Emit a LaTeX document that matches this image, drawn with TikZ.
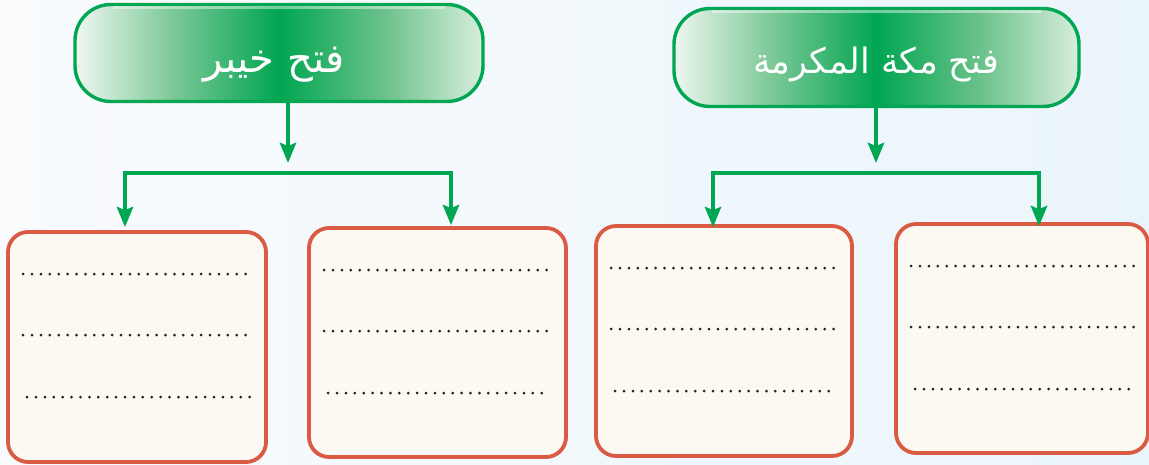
\documentclass[tikz,border=0pt]{standalone}
\usepackage{fontspec}
\usetikzlibrary{arrows.meta,calc}
\TeXXeTstate=1
\newfontfamily\arabicfont[Script=Arabic]{DejaVu Sans}
\definecolor{hgreen}{HTML}{00A651}
\definecolor{hleft}{HTML}{EEF7F0}
\definecolor{hmidl}{HTML}{7CC897}
\definecolor{hmidr}{HTML}{6CC28B}
\definecolor{hright}{HTML}{D8EEDD}
\definecolor{redline}{HTML}{D95B43}
\definecolor{boxfill}{HTML}{FCF8F2}
\definecolor{bgl}{HTML}{F9FBFD}
\definecolor{bgr}{HTML}{EAF5FB}
\definecolor{dotc}{HTML}{222222}
\pgfdeclarehorizontalshading{hdr}{100bp}{color(0bp)=(hleft); color(25bp)=(hleft); color(37bp)=(hmidl); color(50bp)=(hgreen); color(63bp)=(hmidr); color(75bp)=(hright); color(100bp)=(hright)}
\tikzset{
  header/.style={draw=hgreen, line width=3.4pt, shading=hdr, rounded corners=36pt, inner sep=0pt},
  hlight/.style={draw=white, opacity=0.45, line width=3pt},
  htext/.style={text=white, inner sep=0pt, anchor=base},
  ansbox/.style={draw=redline, line width=3.8pt, fill=boxfill, rounded corners=20pt, inner sep=0pt},
  conn/.style={draw=hgreen, line width=4.8pt},
  arr/.style={conn, -{Stealth[length=20pt,width=16pt,inset=3pt]}},
  dots/.style={draw=dotc, line width=3pt, line cap=round, dash pattern=on 0pt off 8.9pt}
}
\begin{document}
\begin{tikzpicture}[x=1pt,y=-1pt]
\shade[left color=bgl, right color=bgr] (0,0) rectangle (1149,465);
\useasboundingbox (0,0) rectangle (1149,465);

% headers
\node[header, minimum width=408pt, minimum height=97pt] (h1) at (279,53) {};
\node[header, minimum width=405pt, minimum height=98pt] (h2) at (876.5,57.5) {};
\draw[hlight] ($(h1.north west)+(40,5)$) -- ($(h1.north east)+(-40,5)$);
\draw[hlight] ($(h2.north west)+(40,5)$) -- ($(h2.north east)+(-40,5)$);
\node[htext, font=\arabicfont\fontsize{40}{48}\selectfont] (h1t) at (274,73) {\beginR فتح خيبر\endR};
\node[htext, font=\arabicfont\fontsize{35}{42}\selectfont] (h2t) at (876,74) {\beginR فتح مكة المكرمة\endR};

% answer boxes
\node[ansbox, minimum width=258pt, minimum height=230pt] (b1) at (137,347) {};
\node[ansbox, minimum width=257pt, minimum height=229pt] (b2) at (437.5,342.5) {};
\node[ansbox, minimum width=256pt, minimum height=230pt] (b3) at (724,341) {};
\node[ansbox, minimum width=252pt, minimum height=229pt] (b4) at (1022,338.5) {};

% connectors left tree
\coordinate (t1) at (288,163);
\coordinate (j1L) at (125,173);
\coordinate (j1R) at (451,173);
\draw[arr] (h1.south -| t1) -- (t1);
\draw[conn] ([xshift=-2.4pt]j1L) -- ([xshift=2.4pt]j1R);
\draw[arr] ([yshift=2.4pt]j1L) -- ($(j1L |- b1.north)+(0,-3)$);
\draw[arr] ([yshift=2.4pt]j1R) -- ($(j1R |- b2.north)+(0,-1)$);

% connectors right tree
\coordinate (t2) at (876,163);
\coordinate (j2L) at (713,173);
\coordinate (j2R) at (1039,173);
\draw[arr] (h2.south -| t2) -- (t2);
\draw[conn] ([xshift=-2.4pt]j2L) -- ([xshift=2.4pt]j2R);
\draw[arr] ([yshift=2.4pt]j2L) -- ($(j2L |- b3.north)+(0,3)$);
\draw[arr] ([yshift=2.4pt]j2R) -- ($(j2R |- b4.north)+(0,4)$);

% dotted answer lines
\foreach \b in {b1,b2,b3,b4}{
  \draw[dots] ($(\b.north west)+(17,44)$) -- ($(\b.north east)+(-14,44)$);
  \draw[dots] ($(\b.north west)+(17,105)$) -- ($(\b.north east)+(-14,105)$);
  \draw[dots] ($(\b.north west)+(21,167)$) -- ($(\b.north east)+(-18,167)$);
}
\end{tikzpicture}
\end{document}
